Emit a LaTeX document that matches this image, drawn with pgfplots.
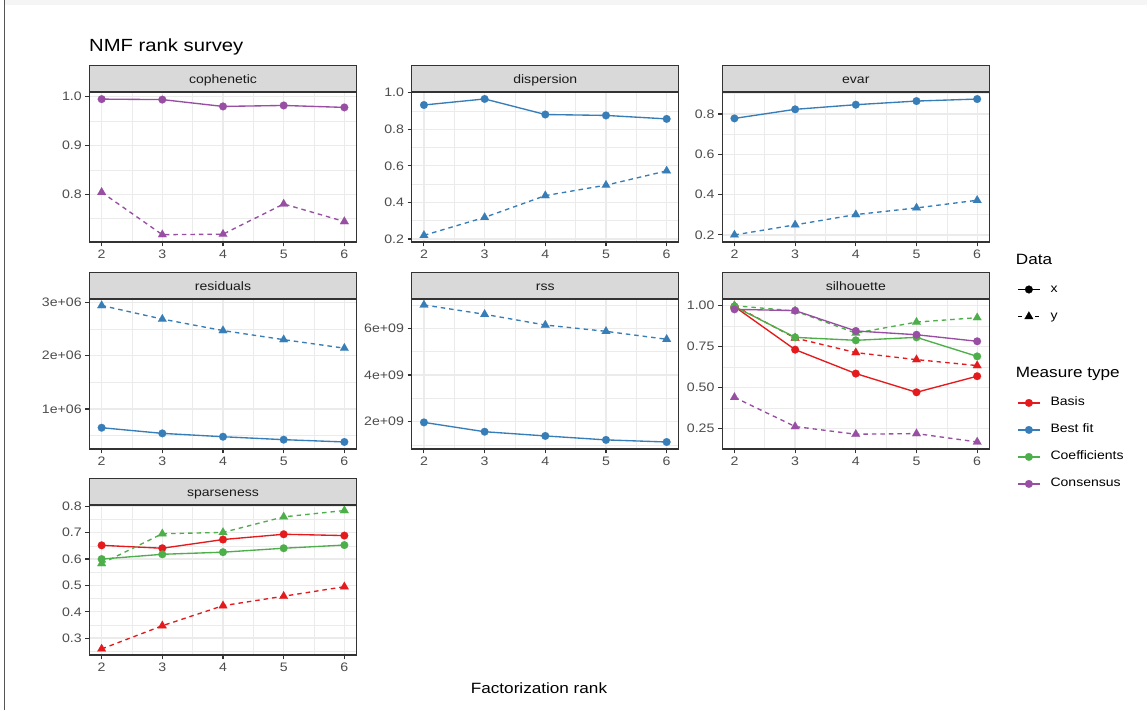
\documentclass[border=0pt]{standalone}
\usepackage{pgfplots}
\pgfplotsset{compat=1.18}
\usepackage{fontspec}
\setmainfont{Liberation Sans}[FakeStretch=1.15]

\definecolor{cBasis}{HTML}{E41A1C}
\definecolor{cBest}{HTML}{377EB8}
\definecolor{cCoef}{HTML}{4DAF4A}
\definecolor{cCons}{HTML}{984EA3}
\definecolor{gridc}{HTML}{EBEBEB}
\definecolor{framec}{HTML}{333333}
\definecolor{ticklab}{HTML}{4D4D4D}
\definecolor{stripbg}{HTML}{D9D9D9}
\definecolor{striptext}{HTML}{1A1A1A}

\newcommand{\tickfont}{\fontsize{12.3}{14}\selectfont}
\newcommand{\smallfont}{\fontsize{12.2}{14}\selectfont}
\newcommand{\bigfont}{\fontsize{14.9}{17}\selectfont}

% facet strip: x of left edge, y of plot top, label
\newcommand{\strip}[3]{%
  \draw[fill=stripbg, draw=framec, line width=1.1pt] (#1pt,#2pt) rectangle ++(267pt,26.5pt);
  \node[anchor=base, inner sep=0pt, font=\smallfont, text=striptext] at (#1pt+133.5pt,#2pt+8.9pt) {#3};
}

\pgfplotsset{
  facet/.style={
    scale only axis, width=267pt, height=150pt,
    anchor=south west,
    xmin=1.8, xmax=6.2,
    xtick={2,3,4,5,6}, xticklabels={2,3,4,5,6},
    minor xtick={2.5,3.5,4.5,5.5},
    grid=both,
    major grid style={draw=gridc, line width=1.3pt},
    minor grid style={draw=gridc, line width=0.65pt},
    axis line style={draw=framec, line width=1.1pt},
    tick align=outside, xtick pos=left, ytick pos=left,
    major tick length=4.3pt, minor tick length=0pt,
    tick style={draw=framec, line width=1.1pt},
    tick label style={font=\tickfont, text=ticklab},
    scaled y ticks=false,
    clip=false,
  },
  sx/.style={draw=#1, line width=1.35pt, solid, mark=*, mark size=3.9pt,
    mark options={solid, fill=#1, draw=#1, line width=0.1pt}},
  sy/.style={draw=#1, line width=1.35pt, dash pattern=on 4.5pt off 4pt, mark=triangle*, mark size=5pt,
    mark options={solid, fill=#1, draw=#1, line width=0.1pt}},
  keyaxis/.style={
    hide axis, scale only axis, width=10pt, height=10pt, anchor=south west,
    xmin=0, xmax=1, ymin=0, ymax=1,
    legend style={at={(0,0)}, anchor=north west, draw=none, fill=none,
      inner sep=0pt, row sep=15pt, column sep=10pt, font=\smallfont,
      nodes={inner sep=0pt, text height=9pt, text depth=3pt}},
    legend cell align=left,
    legend image code/.code={\draw[mark repeat=2, mark phase=2, ##1]
      plot coordinates {(0pt,0pt) (11pt,0pt) (22pt,0pt)};},
  },
}

\begin{document}
\begin{tikzpicture}
\useasboundingbox (0,0) rectangle (1147pt,710pt);
\fill[white] (0,0) rectangle (1147pt,710pt);
\fill[color={rgb,255:red,245;green,245;blue,245}] (5pt,705.3pt) rectangle (1147pt,710pt);
\draw[color={rgb,255:red,85;green,85;blue,85}, line width=1pt] (4pt,0pt) -- (4pt,710pt);

% ---- row 1 ----
\begin{axis}[facet, at={(89.5pt,468pt)},
  ymin=0.702, ymax=1.0096,
  ytick={0.8,0.9,1.0}, yticklabels={0.8,0.9,1.0}, minor ytick={0.75,0.85,0.95}]
\addplot[sx=cCons] coordinates {(2,0.995) (3,0.994) (4,0.980) (5,0.982) (6,0.978)};
\addplot[sy=cCons] coordinates {(2,0.804) (3,0.717) (4,0.718) (5,0.780) (6,0.744)};
\end{axis}

\begin{axis}[facet, at={(411.8pt,468pt)},
  ymin=0.1836, ymax=1.003,
  ytick={0.2,0.4,0.6,0.8,1.0}, yticklabels={0.2,0.4,0.6,0.8,1.0}, minor ytick={0.3,0.5,0.7,0.9}]
\addplot[sx=cBest] coordinates {(2,0.932) (3,0.965) (4,0.880) (5,0.875) (6,0.856)};
\addplot[sy=cBest] coordinates {(2,0.220) (3,0.318) (4,0.437) (5,0.494) (6,0.572)};
\end{axis}

\begin{axis}[facet, at={(722.3pt,468pt)},
  ymin=0.165, ymax=0.909,
  ytick={0.2,0.4,0.6,0.8}, yticklabels={0.2,0.4,0.6,0.8}, minor ytick={0.3,0.5,0.7,0.9}]
\addplot[sx=cBest] coordinates {(2,0.778) (3,0.823) (4,0.846) (5,0.864) (6,0.874)};
\addplot[sy=cBest] coordinates {(2,0.200) (3,0.250) (4,0.301) (5,0.334) (6,0.372)};
\end{axis}

% ---- row 2 ----
\begin{axis}[facet, at={(89.5pt,261pt)},
  ymin=0.25e6, ymax=3.062e6,
  ytick={1e6,2e6,3e6}, yticklabels={1e+06,2e+06,3e+06}, minor ytick={0.5e6,1.5e6,2.5e6}]
\addplot[sx=cBest] coordinates {(2,0.649e6) (3,0.543e6) (4,0.480e6) (5,0.425e6) (6,0.382e6)};
\addplot[sy=cBest] coordinates {(2,2.94e6) (3,2.685e6) (4,2.47e6) (5,2.30e6) (6,2.14e6)};
\end{axis}

\begin{axis}[facet, at={(411.8pt,261pt)},
  ymin=0.83e9, ymax=7.255e9,
  ytick={2e9,4e9,6e9}, yticklabels={2e+09,4e+09,6e+09}, minor ytick={1e9,3e9,5e9,7e9}]
\addplot[sx=cBest] coordinates {(2,1.97e9) (3,1.57e9) (4,1.39e9) (5,1.22e9) (6,1.13e9)};
\addplot[sy=cBest] coordinates {(2,7.00e9) (3,6.60e9) (4,6.14e9) (5,5.87e9) (6,5.53e9)};
\end{axis}

\begin{axis}[facet, at={(722.3pt,261pt)},
  ymin=0.126, ymax=1.041,
  ytick={0.25,0.5,0.75,1.0}, yticklabels={0.25,0.50,0.75,1.00}, minor ytick={0.375,0.625,0.875}]
\addplot[sx=cBasis] coordinates {(2,0.995) (3,0.732) (4,0.586) (5,0.472) (6,0.570)};
\addplot[sy=cBasis] coordinates {(2,1.000) (3,0.803) (4,0.714) (5,0.671) (6,0.635)};
\addplot[sx=cCoef] coordinates {(2,0.995) (3,0.807) (4,0.789) (5,0.807) (6,0.691)};
\addplot[sy=cCoef] coordinates {(2,1.000) (3,0.968) (4,0.833) (5,0.900) (6,0.927)};
\addplot[sx=cCons] coordinates {(2,0.978) (3,0.970) (4,0.846) (5,0.823) (6,0.783)};
\addplot[sy=cCons] coordinates {(2,0.441) (3,0.263) (4,0.216) (5,0.220) (6,0.169)};
\end{axis}

% ---- row 3 ----
\begin{axis}[facet, at={(89.5pt,55pt)},
  ymin=0.236, ymax=0.805,
  ytick={0.3,0.4,0.5,0.6,0.7,0.8}, yticklabels={0.3,0.4,0.5,0.6,0.7,0.8},
  minor ytick={0.25,0.35,0.45,0.55,0.65,0.75}]
\addplot[sx=cBasis] coordinates {(2,0.652) (3,0.641) (4,0.674) (5,0.694) (6,0.689)};
\addplot[sy=cBasis] coordinates {(2,0.259) (3,0.347) (4,0.423) (5,0.459) (6,0.495)};
\addplot[sx=cCoef] coordinates {(2,0.600) (3,0.618) (4,0.626) (5,0.641) (6,0.653)};
\addplot[sy=cCoef] coordinates {(2,0.583) (3,0.696) (4,0.701) (5,0.760) (6,0.784)};
\end{axis}

% ---- strips ----
\strip{89.5}{618}{cophenetic}
\strip{411.8}{618}{dispersion}
\strip{722.3}{618}{evar}
\strip{89.5}{411}{residuals}
\strip{411.8}{411}{rss}
\strip{722.3}{411}{silhouette}
\strip{89.5}{205}{sparseness}

% ---- titles ----
\node[anchor=base west, inner sep=0pt, font=\fontsize{17.6}{20}\selectfont] at (89pt,658pt) {NMF rank survey};
\node[anchor=base, inner sep=0pt, font=\bigfont] at (539pt,16.5pt) {Factorization rank};

% ---- legends ----
\node[anchor=base west, inner sep=0pt, font=\bigfont] at (1015.7pt,445pt) {Data};
\begin{axis}[keyaxis, at={(1017pt,426.7pt)}]
\addlegendimage{sx=black}
\addlegendentry{x}
\addlegendimage{sy=black}
\addlegendentry{y}
\end{axis}

\node[anchor=base west, inner sep=0pt, font=\bigfont] at (1015.7pt,333pt) {Measure type};
\begin{axis}[keyaxis, at={(1017pt,313.3pt)}]
\addlegendimage{sx=cBasis}
\addlegendentry{Basis}
\addlegendimage{sx=cBest}
\addlegendentry{Best fit}
\addlegendimage{sx=cCoef}
\addlegendentry{Coefficients}
\addlegendimage{sx=cCons}
\addlegendentry{Consensus}
\end{axis}
\end{tikzpicture}
\end{document}
